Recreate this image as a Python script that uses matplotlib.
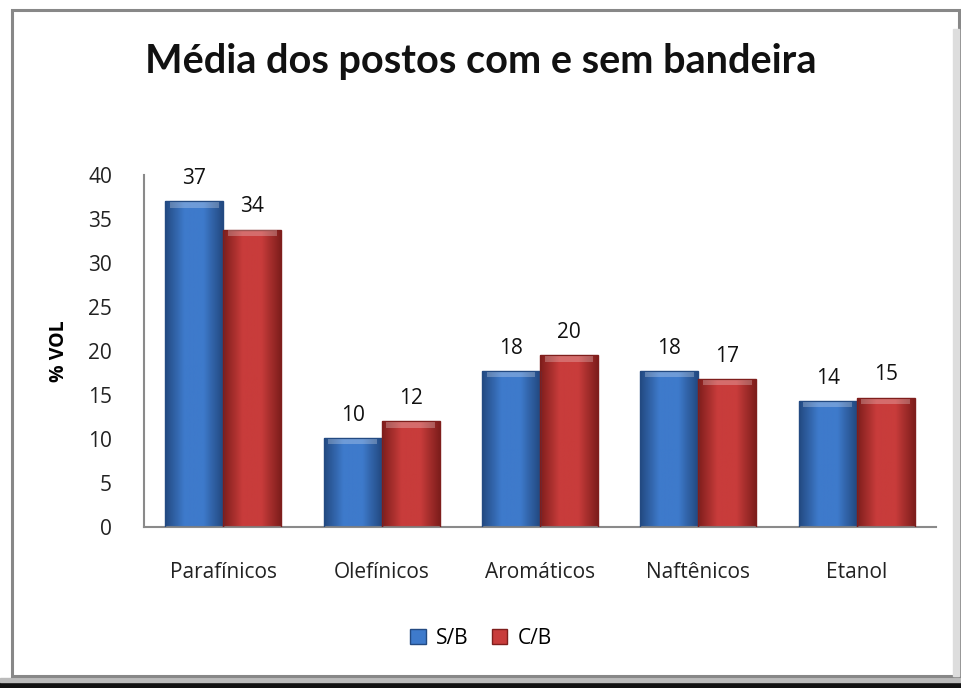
import numpy as np
import matplotlib.pyplot as plt
from matplotlib.patches import Rectangle
from matplotlib.colors import LinearSegmentedColormap

plt.rcParams['font.family'] = ['Open Sans', 'DejaVu Sans']

categorias = ['Parafínicos', 'Olefínicos', 'Aromáticos', 'Naftênicos', 'Etanol']
sb = [37.0, 10.1, 17.7, 17.7, 14.3]
cb = [33.8, 12.0, 19.5, 16.8, 14.7]
series = ['S/B', 'C/B']
cores = ['#3e7acb', '#c83c3b']
bordas = ['#234a82', '#7f1e1c']

fig = plt.figure(figsize=(9.62, 6.88), dpi=100)
# moldura com sombra
fig.patches.append(Rectangle((0.0, 0.0), 1, 0.008, transform=fig.transFigure,
                             color='#111111', zorder=-10))
fig.patches.append(Rectangle((0.0, 0.008), 1, 0.006, transform=fig.transFigure,
                             color='#bbbbbb', zorder=-10))
fig.patches.append(Rectangle((0.012, 0.018), 0.985, 0.968, transform=fig.transFigure,
                             facecolor='white', edgecolor='#888888', lw=2.2, zorder=-9))
fig.patches.append(Rectangle((0.991, 0.018), 0.006, 0.94, transform=fig.transFigure,
                             color='#dddddd', zorder=-8))

ax = fig.add_axes([144/962, 1-527/688, (936-144)/962, (527-175)/688])
x = np.arange(len(categorias))
w = 0.366

def grad_bar(rects, cor, borda):
    cmap = LinearSegmentedColormap.from_list('g', [borda, cor, cor, borda])
    for r in rects:
        x0, y0 = r.get_x(), r.get_y()
        ww, hh = r.get_width(), r.get_height()
        im = ax.imshow(np.linspace(0, 1, 64).reshape(1, -1), cmap=cmap, aspect='auto',
                       extent=[x0, x0+ww, y0, y0+hh], zorder=2)
        im.set_clip_path(r)
        r.set_facecolor('none')
        r.set_zorder(3)
        # brilho no topo
        ax.add_patch(Rectangle((x0+ww*0.08, y0+hh-0.7), ww*0.84, 0.6,
                               facecolor='white', alpha=0.25, lw=0, zorder=3))

b1 = ax.bar(x - w/2, sb, w, color=cores[0], edgecolor=bordas[0], lw=1, label=series[0])
b2 = ax.bar(x + w/2, cb, w, color=cores[1], edgecolor=bordas[1], lw=1, label=series[1])
grad_bar(b1, cores[0], bordas[0])
grad_bar(b2, cores[1], bordas[1])

for rects, vals in [(b1, sb), (b2, cb)]:
    for r, v in zip(rects, vals):
        ax.text(r.get_x() + r.get_width()/2, v + 2.0, '%d' % round(v),
                ha='center', va='baseline', fontsize=15, color='#111111')

ax.set_xlim(-0.5, len(categorias) - 0.5)
ax.set_ylim(0, 40)
ax.set_yticks(range(0, 41, 5))
ax.set_xticks(x)
ax.set_xticklabels(categorias)
ax.tick_params(length=0, labelsize=15, colors='#222222')
ax.tick_params(axis='x', pad=25)
ax.tick_params(axis='y', pad=23)
for s in ['top', 'right']:
    ax.spines[s].set_visible(False)
for s in ['left', 'bottom']:
    ax.spines[s].set_color('#8a8a8a')
    ax.spines[s].set_linewidth(1.5)
ax.set_ylabel('% VOL', fontsize=14, fontweight='bold', labelpad=14)
ax.set_facecolor('none')

fig.text(0.5, 1-62/688, 'Média dos postos com e sem bandeira', ha='center', va='center',
         fontsize=28.5, fontweight='bold', color='#111111', family=['Lato', 'DejaVu Sans'])

leg = fig.legend(handles=[b1, b2], labels=series, loc='center', bbox_to_anchor=(0.5, 1-638/688),
                 ncol=2, frameon=False, fontsize=15, handlelength=0.75, handleheight=0.75,
                 handletextpad=0.5, columnspacing=1.1)
for h, c, e in zip(leg.legend_handles, cores, bordas):
    h.set_facecolor(c)
    h.set_edgecolor(e)

fig.savefig('out.png', dpi=100)
